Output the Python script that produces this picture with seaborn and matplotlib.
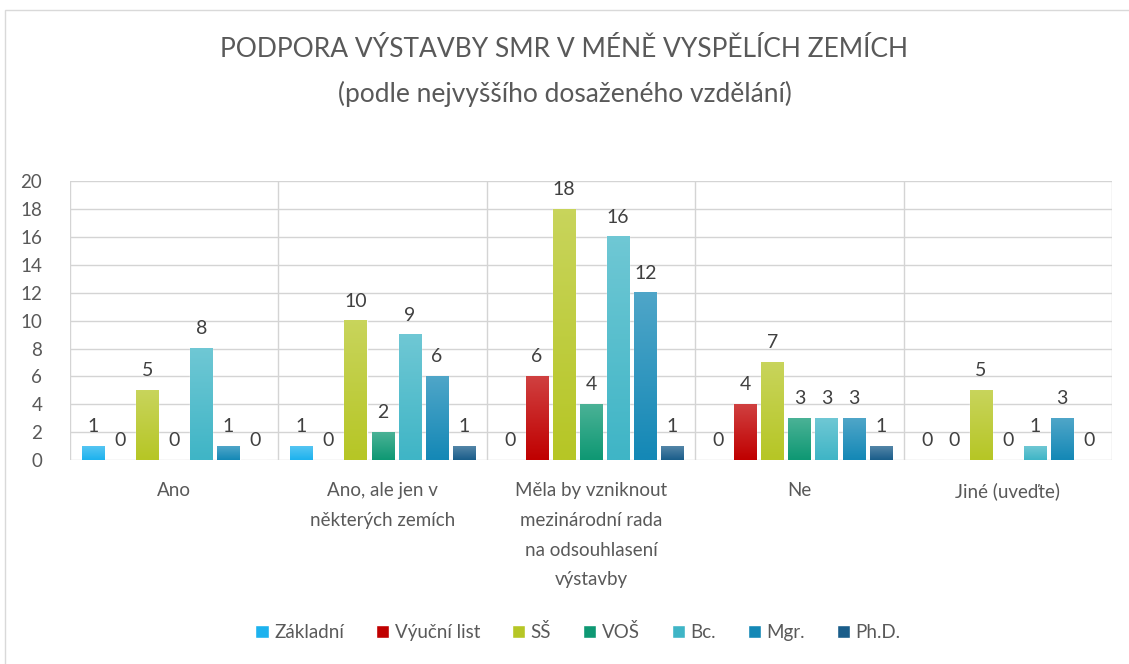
import matplotlib.pyplot as plt
import matplotlib.colors as mcolors
from matplotlib.patches import Rectangle
import seaborn as sns
import pandas as pd
import numpy as np

# data
categories = [
    "Ano",
    "Ano, ale jen v\nněkterých zemích",
    "Měla by vzniknout\nmezinárodní rada\nna odsouhlasení\nvýstavby",
    "Ne",
    "Jiné (uveďte)",
]
series = ["Základní", "Výuční list", "SŠ", "VOŠ", "Bc.", "Mgr.", "Ph.D."]
zakladni = [1, 1, 0, 0, 0]
vyucni_list = [0, 0, 6, 4, 0]
ss = [5, 10, 18, 7, 5]
vos = [0, 2, 4, 3, 0]
bc = [8, 9, 16, 3, 1]
mgr = [1, 6, 12, 3, 3]
phd = [0, 1, 1, 1, 0]
colors = ["#1db2ee", "#c00000", "#b6c625", "#0e9873", "#3fb5c6", "#1488b6", "#1a5d8a"]

values = [zakladni, vyucni_list, ss, vos, bc, mgr, phd]
rows = []
for s, vals in zip(series, values):
    for c, v in zip(categories, vals):
        rows.append({"kategorie": c, "vzdelani": s, "pocet": v})
df = pd.DataFrame(rows)

sns.set_style("white")
plt.rcParams["font.family"] = ["Lato", "DejaVu Sans"]
text_col = "#595959"

fig = plt.figure(figsize=(11.29, 6.64), dpi=100)
ax = fig.add_axes([0.062, 0.307, 0.923, 0.42])

sns.barplot(data=df, x="kategorie", y="pocet", hue="vzdelani", order=categories,
            hue_order=series, palette=colors, width=0.91, gap=0.18, ax=ax,
            legend=True, saturation=1)

# gradient fill like the original (lighter at the top)
for cont, col in zip(ax.containers, colors):
    base = np.array(mcolors.to_rgb(col))
    light = base + (1 - base) * 0.25
    for bar in cont:
        x, w, h = bar.get_x(), bar.get_width(), bar.get_height()
        if h <= 0:
            continue
        t = np.linspace(0, 1, 64).reshape(-1, 1, 1)
        img = base * (1 - t) + light * t
        ax.imshow(img, extent=[x, x + w, 0, h], origin="lower", aspect="auto",
                  zorder=3, interpolation="bilinear")
    ax.bar_label(cont, labels=[f"{v:.0f}" for v in cont.datavalues], padding=8,
                 fontsize=14, color="#404040")

ax.set_xlim(-0.5, len(categories) - 0.5)
ax.set_ylim(0, 20)
ax.set_yticks(range(0, 21, 2))
ax.set_xticks(np.arange(-0.5, len(categories)), minor=True)
ax.grid(axis="y", color="#d4d4d4", linewidth=1)
ax.grid(axis="x", which="minor", color="#d4d4d4", linewidth=1)
ax.set_axisbelow(True)
for sp in ax.spines.values():
    sp.set_visible(False)
ax.set_xlabel("")
ax.set_ylabel("")
ax.tick_params(axis="y", length=0, pad=20, labelsize=13.5, labelcolor=text_col)
ax.tick_params(axis="x", which="both", length=0, pad=16, labelsize=13.5, labelcolor=text_col)
for lbl in ax.get_xticklabels():
    lbl.set_linespacing(1.9)

handles, labels = ax.get_legend_handles_labels()
ax.get_legend().remove()
fig.legend(handles, labels, loc="center", bbox_to_anchor=(0.512, 0.048), ncol=7,
           frameon=False, fontsize=13.5, handlelength=0.7, handleheight=0.7,
           handletextpad=0.3, columnspacing=1.7, labelcolor=text_col)

fig.text(0.5, 0.925, "PODPORA VÝSTAVBY SMR V MÉNĚ VYSPĚLÍCH ZEMÍCH", ha="center",
         va="center", fontsize=19, color=text_col)
fig.text(0.5, 0.859, "(podle nejvyššího dosaženého vzdělání)", ha="center",
         va="center", fontsize=19, color=text_col)

fig.patches.append(Rectangle((0.004, -0.01), 1.0, 0.995, transform=fig.transFigure,
                             fill=False, edgecolor="#d9d9d9", linewidth=1))

fig.savefig("out.png", dpi=100)
